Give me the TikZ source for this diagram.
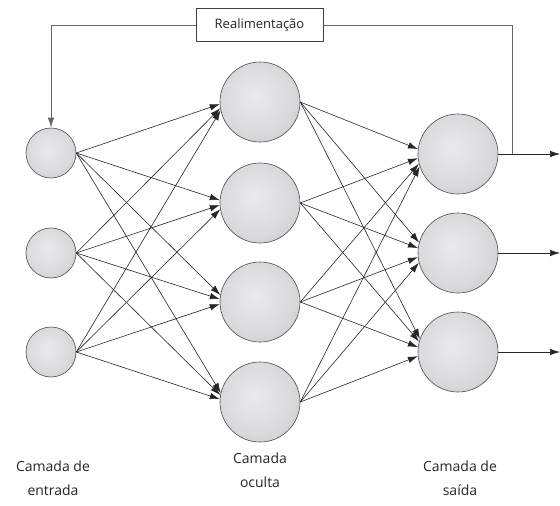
\documentclass[tikz,border=0pt]{standalone}
\usepackage{fontspec}
\setmainfont{Open Sans}
\usetikzlibrary{arrows.meta,calc}
\definecolor{shadeA}{HTML}{EAEAEC}
\definecolor{shadeB}{HTML}{DADADC}
\definecolor{shadeC}{HTML}{B4B4B6}
\pgfdeclareradialshading{nodeshade}{\pgfpoint{-4bp}{4bp}}{color(0bp)=(shadeA); color(22bp)=(shadeB); color(50bp)=(shadeC)}
\tikzset{
  neuronS/.style={circle, draw=black!70, line width=0.6pt, shading=nodeshade, minimum size=50pt, inner sep=0pt},
  neuronL/.style={circle, draw=black!70, line width=0.6pt, shading=nodeshade, minimum size=80pt, inner sep=0pt},
  edge/.style={draw=black!85, line width=0.6pt, -{Latex[length=10pt,width=6.5pt]}},
  fb/.style={draw=black!60, line width=1pt},
  lbl/.style={font=\fontsize{14}{24}\selectfont, align=center, text=black!85},
}
\begin{document}
\begin{tikzpicture}[x=1pt,y=-1pt]
\useasboundingbox[fill=white] (0,0) rectangle (560,506);
% input layer
\node[neuronS] (i1) at (51,153) {};
\node[neuronS] (i2) at (51,253) {};
\node[neuronS] (i3) at (51,352) {};
% hidden layer
\node[neuronL] (h1) at (260,102) {};
\node[neuronL] (h2) at (260,203) {};
\node[neuronL] (h3) at (260,302) {};
\node[neuronL] (h4) at (260,402) {};
% output layer
\node[neuronL] (o1) at (458,154) {};
\node[neuronL] (o2) at (458,253) {};
\node[neuronL] (o3) at (458,352) {};
% connections
\foreach \i in {1,2,3}{
  \foreach \h in {1,2,3,4}{
    \draw[edge] let \p1=(i\i.east), \p2=(h\h.west), \n1={atan2(\y2-\y1,\x2-\x1)}, \n2={180+0.2*\n1} in (\p1) -- (h\h.\n2);
  }
}
\foreach \h in {1,2,3,4}{
  \foreach \o in {1,2,3}{
    \draw[edge] let \p1=(h\h.east), \p2=(o\o.west), \n1={atan2(\y2-\y1,\x2-\x1)}, \n2={180+0.28*\n1} in (\p1) -- (o\o.\n2);
  }
}
% outputs
\coordinate (out1) at (560,154);
\coordinate (out2) at (560,253);
\coordinate (out3) at (560,352);
\draw[edge] (o1.east) -- (out1);
\draw[edge] (o2.east) -- (out2);
\draw[edge] (o3.east) -- (out3);
% feedback
\node[draw=black!75, line width=0.6pt, fill=white, minimum width=127pt, minimum height=33pt, inner sep=0pt, font=\fontsize{13}{15}\selectfont, text=black!85] (fbbox) at (259.5,25) {Realimentação};
\coordinate (fbr) at (512,154);
\coordinate (fbrt) at (512,25);
\coordinate (fblt) at (51,25);
\draw[fb] (fbr) -- (fbrt) -- (fbbox.east);
\draw[fb, -{Latex[length=10pt,width=6.5pt]}] (fbbox.west) -- (fblt) -- (i1.north);
% labels
\node[lbl] (l1) at (53,478) {Camada de\\entrada};
\node[lbl] (l2) at (260,470) {Camada\\oculta};
\node[lbl] (l3) at (460,478) {Camada de\\saída};
\end{tikzpicture}
\end{document}
